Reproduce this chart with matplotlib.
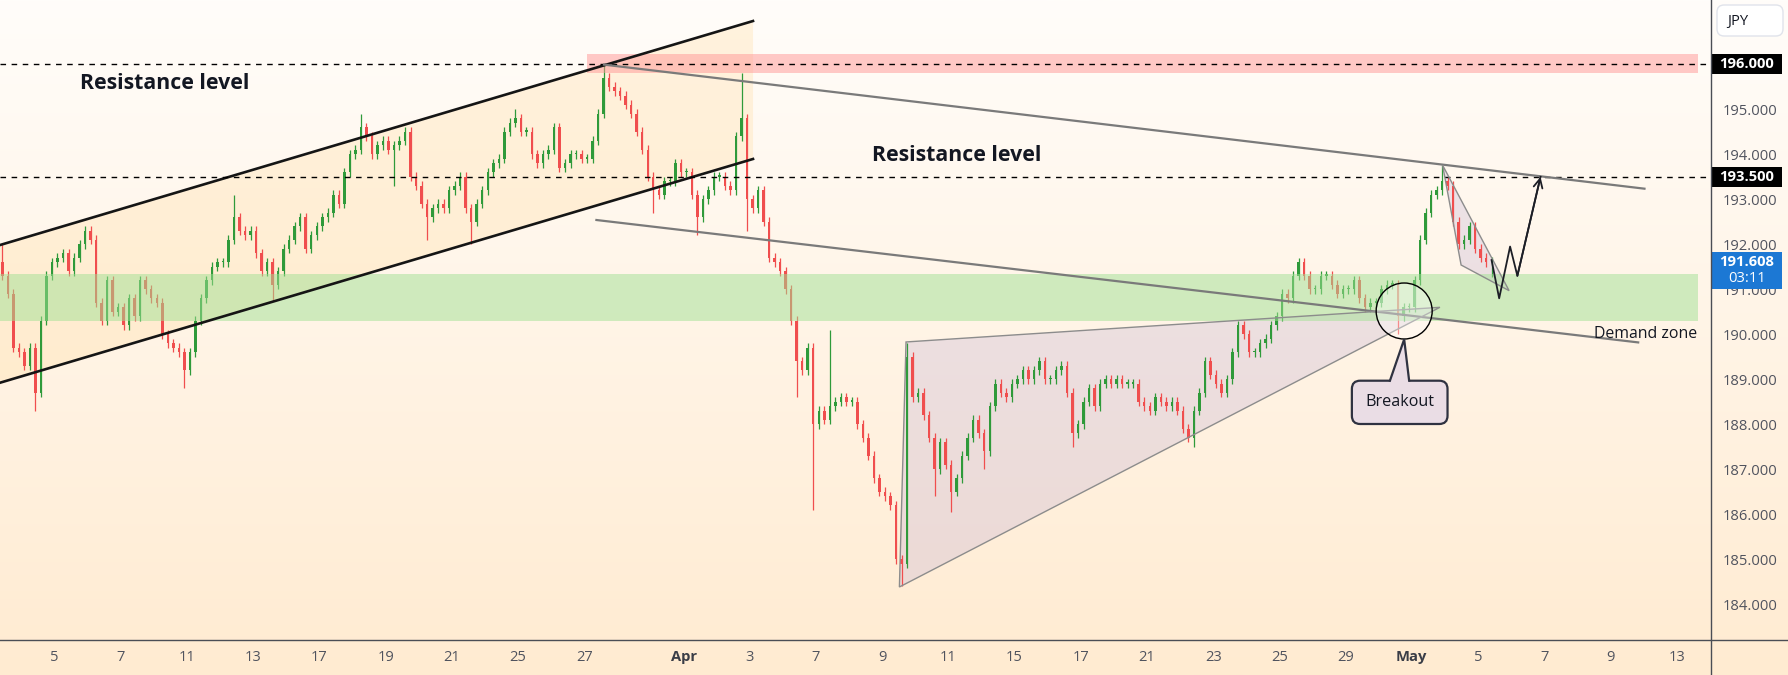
import numpy as np
import matplotlib.pyplot as plt
import matplotlib.transforms as mtransforms
from matplotlib.patches import Polygon, Rectangle, Ellipse, FancyBboxPatch
from matplotlib.lines import Line2D

# 4h closes, 6 bars per trading day (day 0 = Mar 3, its first two bars are off the chart)
closes = [
    191.3, 190.9, 189.7, 189.6,
    189.3, 189.7, 188.7, 190.3, 191.3, 191.6,
    191.7, 191.8, 191.4, 191.7, 192.0, 192.3,
    192.1, 190.7, 190.3, 191.2, 190.5, 190.6,
    190.2, 190.8, 190.4, 191.2, 191.0, 190.8,
    190.7, 190.0, 189.8, 189.7, 189.6, 189.2,
    189.6, 190.3, 190.8, 191.2, 191.5, 191.6,
    191.6, 192.1, 192.6, 192.3, 192.2, 192.3,
    191.8, 191.4, 191.6, 191.1, 191.4, 191.9,
    192.1, 192.4, 192.6, 191.9, 192.2, 192.4,
    192.6, 192.7, 193.1, 192.9, 193.6, 194.0,
    194.1, 194.6, 194.4, 194.0, 194.2, 194.3,
    194.1, 194.2, 194.3, 194.5, 193.5, 193.3,
    192.9, 192.6, 192.8, 192.9, 192.8, 193.2,
    193.3, 193.5, 192.8, 192.5, 192.9, 193.2,
    193.6, 193.8, 193.9, 194.5, 194.7, 194.8,
    194.5, 194.5, 194.0, 193.8, 194.0, 194.1,
    194.6, 193.7, 193.8, 194.0, 194.0, 193.9,
    193.9, 194.3, 194.9, 195.7, 195.5, 195.4,
    195.3, 195.1, 194.9, 194.5, 194.1, 193.5,
    193.2, 193.1, 193.4, 193.4, 193.8, 193.6,
    193.6, 193.1, 192.6, 193.0, 193.2, 193.5,
    193.5, 193.3, 193.2, 194.4, 194.8, 193.0,
    192.8, 193.2, 192.5, 191.7, 191.6, 191.4,
    191.0, 190.3, 189.4, 189.2, 189.7, 188.0,
    188.3, 188.1, 188.4, 188.5, 188.6, 188.5,
    188.5, 188.0, 187.7, 187.3, 186.8, 186.5,
    186.4, 186.2, 185.0, 184.9, 189.5, 188.6,
    188.7, 188.2, 187.7, 187.0, 187.6, 187.1,
    186.5, 186.8, 187.3, 187.7, 188.1, 187.8,
    187.4, 188.4, 188.9, 188.7, 188.6, 188.9,
    189.0, 189.2, 189.0, 189.2, 189.4, 189.0,
    189.0, 189.2, 189.3, 188.7, 187.8, 188.0,
    188.5, 188.8, 188.4, 188.9, 189.0, 188.9,
    189.0, 188.9, 188.9, 188.9, 188.5, 188.4,
    188.3, 188.6, 188.5, 188.4, 188.5, 188.3,
    187.9, 187.7, 188.3, 188.7, 189.4, 189.1,
    188.9, 188.7, 189.0, 189.6, 190.2, 190.0,
    189.6, 189.6, 189.8, 189.9, 190.2, 190.4,
    190.9, 190.8, 191.3, 191.6, 191.3, 191.0,
    191.0, 191.3, 191.3, 191.1, 190.9, 191.0,
    191.0, 191.2, 190.8, 190.6, 190.7, 190.7,
    191.0, 191.1, 191.1, 190.4, 190.6, 190.6,
    191.2, 192.1, 192.7, 193.1, 193.2, 193.4,
    193.3, 192.5, 192.0, 192.1, 192.4, 191.9,
    191.7, 191.6, 191.608,
]
first_open = 191.6

# long wicks (trading day, price)
spike_day = [0.42, 1.5, 5.95, 7.45, 8.6, 11.25, 12.2, 13.3, 14.55, 15.9, 18.59, 20.06,
             21.45, 22.75, 22.9, 24.45, 24.9, 25.45, 27.55, 27.75, 28.58, 29.1, 30.0,
             32.8, 36.4, 42.55, 43.92, 45.4]
spike_px = [192.0, 188.3, 188.8, 193.1, 190.75, 194.9, 193.3, 192.1, 192.0, 195.0, 196.0, 192.7,
            192.2, 195.8, 192.3, 188.6, 186.1, 190.1, 184.4, 189.8, 186.4, 186.06, 187.0,
            187.5, 187.5, 190.0, 193.76, 191.28]

day_pos = [2, 4, 6, 8, 10, 12, 14, 16, 18, 21, 23, 25, 27, 29, 31, 33, 35, 37, 39, 41, 43, 45, 47, 49, 51]
day_lbl = ['5', '7', '11', '13', '17', '19', '21', '25', '27', 'Apr', '3', '7', '9', '11', '15',
           '17', '21', '23', '25', '29', 'May', '5', '7', '9', '13']
price_ticks = [184, 185, 186, 187, 188, 189, 190, 191, 192, 193, 194, 195]

# drawings (trading day, price)
chan_up = [(0.347, 191.984), (23.097, 196.962)]
chan_lo = [(0.347, 188.924), (23.097, 193.896)]
gray_up = [(18.595, 195.993), (50.03, 193.236)]
gray_lo = [(18.366, 192.54), (49.84, 189.82)]
red_zone = (18.08, 51.66, 195.81, 196.24)
green_zone = (0.0, 51.66, 190.30, 191.34)
wedge_big = [(27.72, 189.83), (27.52, 184.385), (43.85, 190.60)]
wedge_small = [(43.93, 193.76), (44.49, 191.54), (45.94, 190.97)]
zigzag = [(45.41, 191.65), (45.64, 190.80), (45.97, 191.95), (46.19, 191.30), (46.89, 193.50)]
last_price = 191.608

green = '#2f9a3a'
red = '#f04e4e'
W, H = 1788, 675

fig = plt.figure(figsize=(W / 100, H / 100), dpi=100)

bg = fig.add_axes([0, 0, 1, 1], zorder=-5)
top = np.array([255, 253, 250]) / 255
bot = np.array([255, 235, 209]) / 255
g = np.linspace(0, 1, 256)[:, None, None]
bg.imshow(top * (1 - g) + bot * g, aspect='auto', extent=[0, 1, 0, 1])
bg.axis('off')

ax = fig.add_axes([0, 35 / H, 1711 / W, 640 / H])
ax.patch.set_alpha(0)
ax.set_xlim(0.347, 52.04)
ax.set_ylim(183.207, 197.429)
for s in ax.spines.values():
    s.set_visible(False)

# candles
c = np.array(closes)
o = np.r_[first_open, c[:-1]]
t = (np.arange(len(c)) + 2.5) / 6
hi = np.maximum(o, c) + 0.1
lo = np.minimum(o, c) - 0.1
for d, p in zip(spike_day, spike_px):
    k = int(round(d * 6 - 2.5))
    hi[k] = max(hi[k], p)
    lo[k] = min(lo[k], p)
col = np.where(c >= o, green, red)
body = np.where(np.abs(c - o) < 0.03, 0.03, c - o)
ax.vlines(t, lo, hi, colors=col, lw=0.9, zorder=3)
ax.bar(t, body, bottom=o, width=0.075, color=col, zorder=3)

# channel
ax.add_patch(Polygon([chan_up[0], chan_up[1], chan_lo[1], chan_lo[0]], closed=True,
                     fc='#ffdca0', alpha=0.3, ec='none', zorder=1))
for ln in (chan_up, chan_lo):
    ax.plot([ln[0][0], ln[1][0]], [ln[0][1], ln[1][1]], color='#151515', lw=1.9, zorder=5)

# zones
ax.add_patch(Rectangle((red_zone[0], red_zone[2]), red_zone[1] - red_zone[0], red_zone[3] - red_zone[2],
                       fc='#ff9696', alpha=0.5, ec='none', zorder=4))
ax.add_patch(Rectangle((green_zone[0], green_zone[2]), green_zone[1] - green_zone[0],
                       green_zone[3] - green_zone[2], fc='#a1e194', alpha=0.5, ec='none', zorder=4))

# resistance dashed lines
for lvl in (196.0, 193.5):
    ax.axhline(lvl, color='black', lw=1, ls=(0, (4, 4)), zorder=5)

# descending gray lines
for ln in (gray_up, gray_lo):
    ax.plot([ln[0][0], ln[1][0]], [ln[0][1], ln[1][1]], color='#7a7a7a', lw=1.6, zorder=5)

# wedges
for wd in (wedge_big, wedge_small):
    ax.add_patch(Polygon(wd, closed=True, fc='#c3afd4', alpha=0.3, ec='none', zorder=1))
    ax.add_patch(Polygon(wd, closed=True, fill=False, ec='#8c8c8c', lw=1, zorder=5))

# projection
zx = [p[0] for p in zigzag]
zy = [p[1] for p in zigzag]
ax.plot(zx, zy, color='#1c1e26', lw=1.3, zorder=6)
ax.annotate('', xy=zigzag[-1], xytext=zigzag[-2],
            arrowprops=dict(arrowstyle='->', color='#1c1e26', lw=1.3, mutation_scale=16,
                            shrinkA=0, shrinkB=0), zorder=6)

# breakout circle and callout
ax.add_patch(Ellipse((42.77, 190.518), 1.692, 1.244, fc=(1, 1, 1, 0.35), ec='black', lw=1, zorder=6))
ax.add_patch(FancyBboxPatch((41.19, 188.007), 2.89, 0.962, boxstyle='round,pad=0,rounding_size=0.25',
                            mutation_aspect=0.7356, fc='#eadde5', ec='#2f3241', lw=1.6, zorder=7))
ax.add_patch(Polygon([(42.36, 188.90), (42.34, 188.969), (42.77, 189.889), (42.92, 188.969), (42.90, 188.90)],
                     closed=True, fc='#eadde5', ec='none', zorder=8))
ax.plot([42.34, 42.77, 42.92], [188.969, 189.889, 188.969], color='#2f3241', lw=1.6, zorder=8,
        solid_joinstyle='miter')
ax.text(42.63, 188.50, 'Breakout', fontsize=11.6, family='Open Sans', color='#131722',
        ha='center', va='center', zorder=9)

ax.text(5.32, 195.578, 'Resistance level', fontsize=15.3, fontweight='bold', family='Open Sans',
        color='#131722', ha='center', va='center', zorder=9)
ax.text(29.25, 193.98, 'Resistance level', fontsize=15.3, fontweight='bold', family='Open Sans',
        color='#131722', ha='center', va='center', zorder=9)
ax.text(50.06, 190.0, 'Demand zone', fontsize=11.4, family='Open Sans', color='#131722',
        ha='center', va='center', zorder=9)

# axes
ax.yaxis.tick_right()
ax.set_yticks(price_ticks, [f'{p:.3f}' for p in price_ticks])
ax.set_xticks(day_pos, day_lbl)
ax.tick_params(axis='y', length=0, pad=8.5, labelsize=10.6, labelcolor='#50535e')
ax.tick_params(axis='x', length=0, pad=7.5, labelsize=10.6, labelcolor='#50535e')
for lab in ax.get_xticklabels() + ax.get_yticklabels():
    lab.set_family('Open Sans')
for lab in ax.get_xticklabels():
    if lab.get_text() in ('Apr', 'May'):
        lab.set_fontweight('bold')
        lab.set_color('#3a3d47')

trans = mtransforms.blended_transform_factory(ax.transAxes, ax.transData)
bw = 70.5 / 1711
for lvl, txt in ((196.0, '196.000'), (193.5, '193.500')):
    ax.add_patch(Rectangle((1.0003, lvl - 0.222), bw, 0.444, transform=trans, fc='black', ec='none',
                           clip_on=False, zorder=10))
    ax.text(1.0003 + bw / 2, lvl, txt, transform=trans, color='white', fontsize=10.6, fontweight='bold',
            family='Open Sans', ha='center', va='center', clip_on=False, zorder=11)
ax.add_patch(Rectangle((1.0003, 191.0), bw, 0.822, transform=trans, fc='#1c78d4', ec='none',
                       clip_on=False, zorder=10))
ax.text(1.0003 + bw / 2, last_price, f'{last_price:.3f}', transform=trans, color='white', fontsize=10.6,
        fontweight='bold', family='Open Sans', ha='center', va='center', clip_on=False, zorder=11)
ax.text(1.0003 + bw / 2, 191.23, '03:11', transform=trans, color='white', fontsize=10.6,
        family='Open Sans', ha='center', va='center', clip_on=False, zorder=11)

fig.add_artist(Line2D([0, 1], [35 / H, 35 / H], transform=fig.transFigure, color='#4a4d55', lw=1))
fig.add_artist(Line2D([1711 / W, 1711 / W], [0, 1], transform=fig.transFigure, color='#4a4d55', lw=1))
fig.add_artist(FancyBboxPatch((1717 / W, 1 - 36 / H), 66 / W, 31 / H,
                              boxstyle='round,pad=0,rounding_size=0.004', mutation_aspect=W / H,
                              transform=fig.transFigure, fc='white', ec='#e0e3eb', lw=1))
fig.text(1738 / W, 1 - 21 / H, 'JPY', fontsize=10.6, family='Open Sans', color='#131722',
         ha='center', va='center')

fig.savefig('out.png', dpi=100)
